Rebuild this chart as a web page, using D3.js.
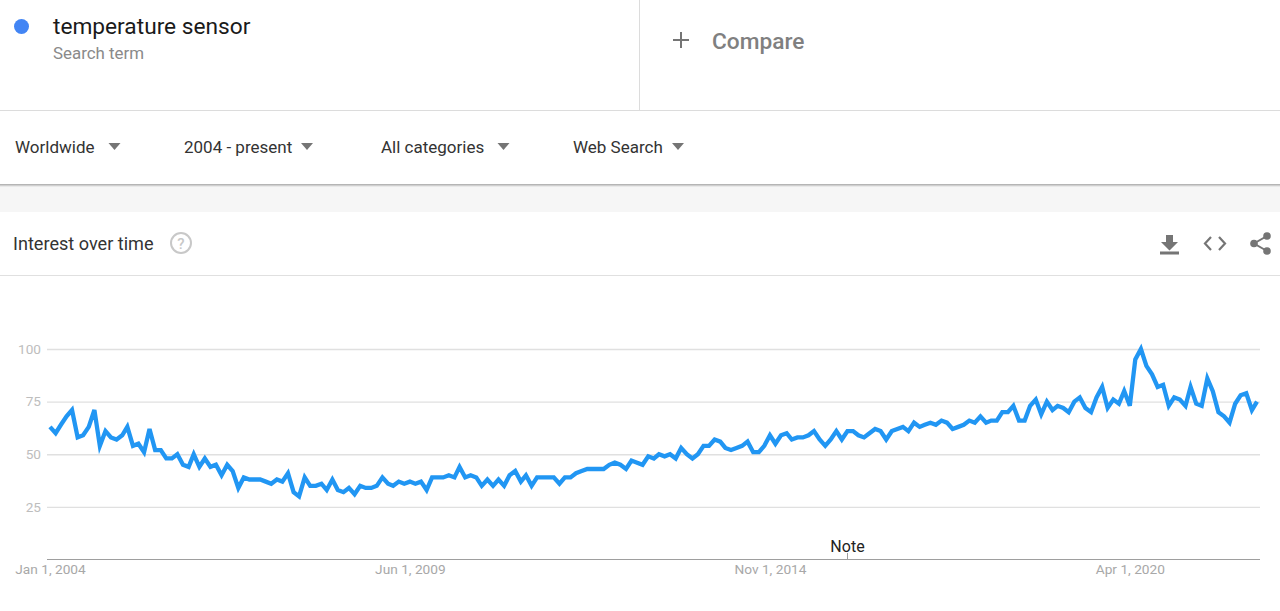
<!DOCTYPE html>
<html>
<head>
<meta charset="utf-8">
<script src="https://cdn.jsdelivr.net/npm/d3@7"></script>
<style>
  html, body { margin: 0; padding: 0; background: #fff; overflow: hidden; }
  svg { display: block; font-family: Roboto, sans-serif; }
  .tick text { font-family: Roboto, sans-serif; }
</style>
</head>
<body>
<script>
const searchTerm = "temperature sensor";
const searchLabel = "Search term";
const filterLabels = ["Worldwide", "2004 - present", "All categories", "Web Search"];
const yTicks = [25, 50, 75, 100];
const xTickDates = ["2004-01-01", "2009-06-01", "2014-11-01", "2020-04-01"];
const noteDate = "2016-01-01";

// monthly interest values
const interest = [
  63, 60, 64, 68, 71, 58, 59, 63, 71, 54, 61, 58,
  57, 59, 63, 54, 55, 51, 62, 52, 52, 48, 48, 50,
  45, 44, 50, 44, 48, 44, 45, 40, 45, 42, 34, 39,
  38, 38, 38, 37, 36, 38, 37, 41, 32, 30, 39, 35,
  35, 36, 33, 38, 33, 32, 34, 31, 35, 34, 34, 35,
  39, 36, 35, 37, 36, 37, 36, 37, 33, 39, 39, 39,
  40, 39, 44, 39, 40, 39, 35, 38, 35, 38, 35, 40,
  42, 37, 40, 35, 39, 39, 39, 39, 36, 39, 39, 41,
  42, 43, 43, 43, 43, 45, 46, 45, 43, 47, 46, 45,
  49, 48, 50, 49, 50, 48, 53, 50, 48, 50, 54, 54,
  57, 56, 53, 52, 53, 54, 56, 51, 51, 54, 59, 55,
  59, 60, 57, 58, 58, 59, 61, 57, 54, 57, 61, 57,
  61, 61, 59, 58, 60, 62, 61, 57, 61, 62, 63, 61,
  65, 63, 64, 65, 64, 66, 65, 62, 63, 64, 66, 65,
  68, 65, 66, 66, 70, 70, 73, 66, 66, 73, 76, 69,
  75, 71, 73, 72, 70, 75, 77, 72, 70, 77, 82, 72,
  76, 74, 80, 73, 95, 100, 92, 88, 82, 83, 73, 77,
  76, 73, 82, 74, 73, 86, 80, 70, 68, 65, 74, 78,
  79, 71, 75
];

const startDate = new Date(2004, 0, 1);
const data = interest.map(function(v, i) {
  return {date: d3.timeMonth.offset(startDate, i), value: v};
});
const parseDate = d3.timeParse("%Y-%m-%d");
const formatTick = d3.timeFormat("%b %-d, %Y");

const width = 1280, height = 611;
const svg = d3.select("body").append("svg")
  .attr("width", width)
  .attr("height", height);

// header band and panels
const defs = svg.append("defs");
const shadow = defs.append("linearGradient")
  .attr("id", "bar-shadow").attr("x1", 0).attr("x2", 0).attr("y1", 0).attr("y2", 1);
shadow.append("stop").attr("offset", "0%").attr("stop-color", "#a8a8a8");
shadow.append("stop").attr("offset", "100%").attr("stop-color", "#f6f6f6");

svg.append("rect").attr("x", 0).attr("y", 184).attr("width", width).attr("height", 28).attr("fill", "#f6f6f6");
svg.append("rect").attr("x", 0).attr("y", 184).attr("width", width).attr("height", 3).attr("fill", "url(#bar-shadow)");
svg.append("line").attr("x1", 0).attr("x2", width).attr("y1", 110.5).attr("y2", 110.5).attr("stroke", "#dcdcdc");
svg.append("line").attr("x1", 639.5).attr("x2", 639.5).attr("y1", 0).attr("y2", 110).attr("stroke", "#dcdcdc");
svg.append("line").attr("x1", 0).attr("x2", width).attr("y1", 275.5).attr("y2", 275.5).attr("stroke", "#e0e0e0");

// search term
svg.append("circle").attr("cx", 21.5).attr("cy", 26.5).attr("r", 7.5).attr("fill", "#4285f4");
svg.append("text").attr("x", 53).attr("y", 34).attr("font-size", 22.7).attr("fill", "#1a1a1a").text(searchTerm);
svg.append("text").attr("x", 53).attr("y", 59).attr("font-size", 16.9).attr("fill", "#8a8a8a").text(searchLabel);

// compare
svg.append("path").attr("d", "M681 32V48M673 40H689").attr("stroke", "#757575").attr("stroke-width", 2).attr("fill", "none");
svg.append("text").attr("x", 712).attr("y", 49).attr("font-size", 22.7).attr("font-weight", 500).attr("fill", "#808080").text("Compare");

// filters
const filterX = [15, 184, 381, 573];
const caretX = [114.5, 307, 503.5, 678];
svg.selectAll(".filter").data(filterLabels).enter().append("text")
  .attr("class", "filter")
  .attr("x", function(d, i) { return filterX[i]; })
  .attr("y", 153)
  .attr("font-size", 17)
  .attr("fill", "#333")
  .text(function(d) { return d; });
svg.selectAll(".caret").data(filterLabels).enter().append("path")
  .attr("class", "caret")
  .attr("d", function(d, i) { return "M" + (caretX[i] - 6) + " 143L" + (caretX[i] + 6) + " 143L" + caretX[i] + " 150Z"; })
  .attr("fill", "#757575");

// panel title
svg.append("text").attr("x", 13).attr("y", 250).attr("font-size", 18.1).attr("fill", "#333").text("Interest over time");
svg.append("circle").attr("cx", 181).attr("cy", 243).attr("r", 10).attr("fill", "none").attr("stroke", "#c8c8c8").attr("stroke-width", 2);
svg.append("text").attr("x", 181).attr("y", 249).attr("text-anchor", "middle").attr("font-size", 15).attr("font-weight", 500).attr("fill", "#c8c8c8").text("?");

// panel icons
svg.append("path").attr("d", "M1166 235H1173V242H1178L1169.5 250.5L1161 242H1166ZM1160 251.5H1179V254.5H1160Z").attr("fill", "#757575");
svg.append("path").attr("d", "M1211 237L1205 243.5L1211 250M1219 237L1225 243.5L1219 250").attr("fill", "none").attr("stroke", "#757575").attr("stroke-width", 2.2);
svg.append("path").attr("d", "M1267 236L1254 243.5L1267 251").attr("fill", "none").attr("stroke", "#757575").attr("stroke-width", 2);
svg.selectAll(".share-dot").data([[1267, 236], [1254, 243.5], [1267, 251]]).enter().append("circle")
  .attr("class", "share-dot")
  .attr("cx", function(d) { return d[0]; })
  .attr("cy", function(d) { return d[1]; })
  .attr("r", 3.8)
  .attr("fill", "#757575");

// scales
const x = d3.scaleTime()
  .domain([startDate, data[data.length - 1].date])
  .range([50, 1257]);
const y = d3.scaleLinear().domain([0, 100]).range([559.5, 349]);

// y axis with gridlines
const yAxis = svg.append("g")
  .attr("class", "y-axis")
  .attr("transform", "translate(47,0)")
  .call(d3.axisLeft(y).tickValues(yTicks).tickSize(0).tickPadding(6));
yAxis.select(".domain").remove();
yAxis.selectAll(".tick text").attr("font-size", 13.6).attr("fill", "#bdbdbd");
yAxis.selectAll(".tick").append("line")
  .attr("x1", 0).attr("x2", 1213)
  .attr("stroke", "#e0e0e0").attr("stroke-width", 1.3);

// x axis
const xAxis = svg.append("g")
  .attr("class", "x-axis")
  .attr("transform", "translate(0,559.5)")
  .call(d3.axisBottom(x).tickValues(xTickDates.map(parseDate)).tickFormat(formatTick).tickSize(0).tickPadding(5));
xAxis.select(".domain").attr("d", "M47,0H1260").attr("stroke", "#9e9e9e").attr("stroke-width", 1);
xAxis.selectAll(".tick text").attr("font-size", 13.7).attr("fill", "#a8a8a8");

// note marker
const noteX = Math.round(x(parseDate(noteDate))) + 0.5;
svg.append("line").attr("x1", noteX).attr("x2", noteX).attr("y1", 553).attr("y2", 559).attr("stroke", "#9e9e9e");
svg.append("text").attr("x", noteX).attr("y", 552).attr("text-anchor", "middle").attr("font-size", 16).attr("fill", "#222").text("Note");

// trend line
const line = d3.line()
  .x(function(d) { return x(d.date); })
  .y(function(d) { return y(d.value); });
svg.append("path")
  .datum(data)
  .attr("d", line)
  .attr("fill", "none")
  .attr("stroke", "#2196f3")
  .attr("stroke-width", 4.3)
  .attr("stroke-linejoin", "miter");
</script>
</body>
</html>
